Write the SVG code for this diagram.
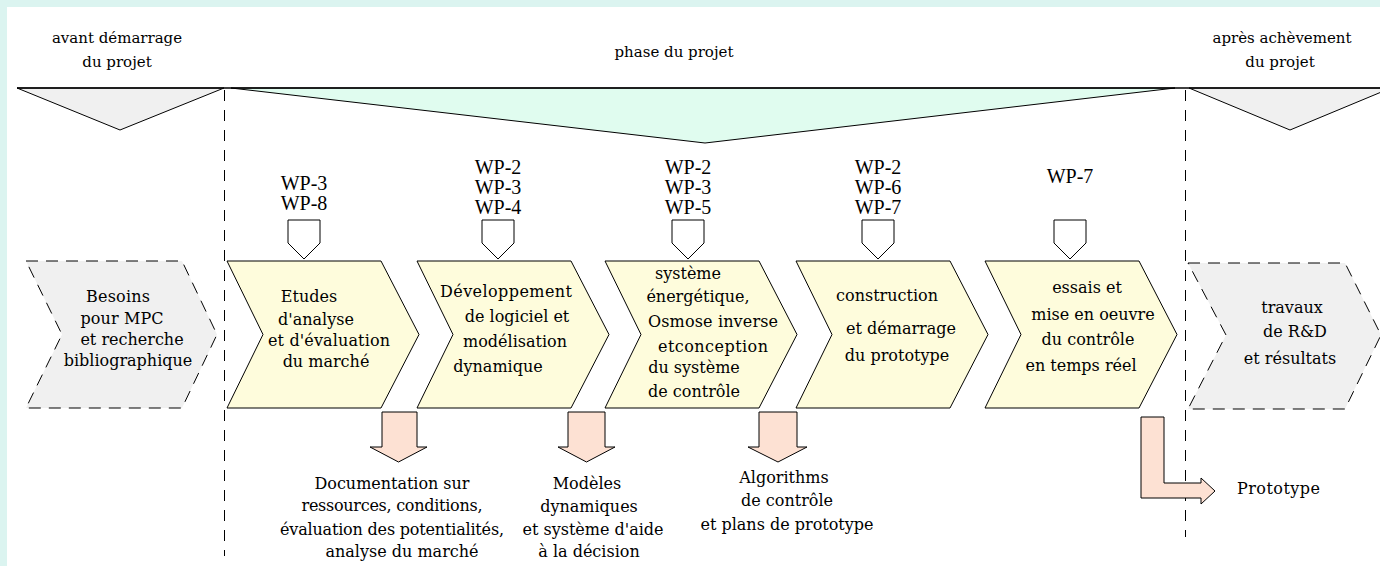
<svg xmlns="http://www.w3.org/2000/svg" width="1380" height="566" viewBox="0 0 1380 566">
<style>
.h{font-family:"DejaVu Serif","Liberation Serif",serif;font-size:15px;fill:#000;text-anchor:middle}
.t{font-family:"DejaVu Serif","Liberation Serif",serif;font-size:16px;fill:#000;text-anchor:middle}
.wp{font-family:"Liberation Serif","Times New Roman",serif;font-size:20px;fill:#000;text-anchor:middle}
.chev{fill:#fefcdc;stroke:#000;stroke-width:1}
.gchev{fill:#f0f0f0;stroke:#000;stroke-width:1;stroke-dasharray:12 8}
.pent{fill:#fff;stroke:#000;stroke-width:1}
.out{fill:#fde1d3;stroke:#000;stroke-width:1}
.dash{fill:none;stroke:#000;stroke-width:1;stroke-dasharray:11 9}
.tri{stroke:#000;stroke-width:1}
</style>
<rect x="0" y="0" width="1380" height="566" fill="#dbf4f0"/>
<rect x="7" y="7" width="1373" height="559" fill="#fff"/>

<g id="header">
  <polygon class="tri" points="17,88 224,88 120,130" fill="#f0f0f0"/>
  <polygon class="tri" points="231,88 1175,88 705,143" fill="#e0fcef"/>
  <polygon class="tri" points="1189,88 1391,88 1290,130" fill="#f0f0f0"/>
  <line x1="17" y1="88" x2="1380" y2="88" stroke="#000" stroke-width="1.3"/>
  <text class="h" x="117" y="43">avant démarrage</text>
  <text class="h" x="117" y="67">du projet</text>
  <text class="h" x="674" y="57">phase du projet</text>
  <text class="h" x="1282" y="43">après achèvement</text>
  <text class="h" x="1280" y="67">du projet</text>
</g>

<g id="separators">
  <line class="dash" x1="224.5" y1="90" x2="224.5" y2="556"/>
  <line class="dash" x1="1185.5" y1="90" x2="1185.5" y2="537"/>
</g>

<g id="n-besoins">
  <path class="gchev" d="M26,261 L182,261 L217,334.5 L182,408 L26,408 L62,334.5 Z"/>
  <text class="t" x="118" y="302" textLength="64">Besoins</text>
  <text class="t" x="122" y="324" textLength="83">pour MPC</text>
  <text class="t" x="132" y="345">et recherche</text>
  <text class="t" x="128" y="366">bibliographique</text>
</g>

<g id="n-etudes">
  <path class="pent" d="M288,220 L320,220 L320,243 L304,259 L288,243 Z"/>
  <text class="wp" x="304" y="190">WP-3</text>
  <text class="wp" x="304" y="210">WP-8</text>
  <path class="chev" d="M227,261 L381,261 L419,334.5 L381,408 L227,408 L263,334.5 Z"/>
  <text class="t" x="309" y="302">Etudes</text>
  <text class="t" x="316" y="325">d'analyse</text>
  <text class="t" x="329" y="346" textLength="122">et d'évaluation</text>
  <text class="t" x="326" y="367">du marché</text>
</g>

<g id="n-dev">
  <path class="pent" d="M482,220 L514,220 L514,243 L498,259 L482,243 Z"/>
  <text class="wp" x="498" y="174">WP-2</text>
  <text class="wp" x="498" y="194">WP-3</text>
  <text class="wp" x="498" y="214">WP-4</text>
  <path class="chev" d="M417,261 L571,261 L609,334.5 L571,408 L417,408 L453,334.5 Z"/>
  <text class="t" x="506" y="297" textLength="132">Développement</text>
  <text class="t" x="517" y="322">de logiciel et</text>
  <text class="t" x="515" y="347">modélisation</text>
  <text class="t" x="498" y="372">dynamique</text>
</g>

<g id="n-systeme">
  <path class="pent" d="M672,220 L704,220 L704,243 L688,259 L672,243 Z"/>
  <text class="wp" x="688" y="174">WP-2</text>
  <text class="wp" x="688" y="194">WP-3</text>
  <text class="wp" x="688" y="214">WP-5</text>
  <path class="chev" d="M605,261 L759,261 L797,334.5 L759,408 L605,408 L641,334.5 Z"/>
  <text class="t" x="688" y="279">système</text>
  <text class="t" x="698" y="302">énergétique,</text>
  <text class="t" x="713" y="327" textLength="130">Osmose inverse</text>
  <text class="t" x="713" y="352" textLength="110">etconception</text>
  <text class="t" x="694" y="373">du système</text>
  <text class="t" x="694" y="397">de contrôle</text>
</g>

<g id="n-construction">
  <path class="pent" d="M862,220 L894,220 L894,243 L878,259 L862,243 Z"/>
  <text class="wp" x="878" y="174">WP-2</text>
  <text class="wp" x="878" y="194">WP-6</text>
  <text class="wp" x="878" y="214">WP-7</text>
  <path class="chev" d="M796,261 L950,261 L988,334.5 L950,408 L796,408 L832,334.5 Z"/>
  <text class="t" x="887" y="301">construction</text>
  <text class="t" x="901" y="334">et démarrage</text>
  <text class="t" x="897" y="361">du prototype</text>
</g>

<g id="n-essais">
  <path class="pent" d="M1054,220 L1086,220 L1086,243 L1070,259 L1054,243 Z"/>
  <text class="wp" x="1070" y="183">WP-7</text>
  <path class="chev" d="M985,261 L1139,261 L1177,334.5 L1139,408 L985,408 L1021,334.5 Z"/>
  <text class="t" x="1087" y="293">essais et</text>
  <text class="t" x="1093" y="320">mise en oeuvre</text>
  <text class="t" x="1088" y="345">du contrôle</text>
  <text class="t" x="1081" y="371">en temps réel</text>
</g>

<g id="n-travaux">
  <path class="gchev" d="M1188,263 L1345,263 L1381,335 L1345,409 L1188,409 L1226,335 Z"/>
  <text class="t" x="1292" y="313">travaux</text>
  <text class="t" x="1295" y="337">de R&amp;D</text>
  <text class="t" x="1290" y="364">et résultats</text>
</g>

<g id="connectors">
  <path class="out" d="M382,412 L417,412 L417,447 L427,447 L398.5,462 L370,447 L382,447 Z"/>
  <path class="out" d="M568,412 L605,412 L605,447 L615,447 L586.5,462 L558,447 L568,447 Z"/>
  <path class="out" d="M759,412 L797,412 L797,447 L807,447 L778,462 L748,447 L759,447 Z"/>
  <path class="out" d="M1141,417 L1164,417 L1164,483 L1201,483 L1201,478 L1215,491 L1201,504 L1201,498 L1141,498 Z"/>
</g>

<g id="n-out-doc">
  <text class="t" x="392" y="489" textLength="155">Documentation sur</text>
  <text class="t" x="392" y="511" textLength="181">ressources, conditions,</text>
  <text class="t" x="392" y="535" textLength="224">évaluation des potentialités,</text>
  <text class="t" x="402" y="557">analyse du marché</text>
</g>
<g id="n-out-mod">
  <text class="t" x="587" y="489">Modèles</text>
  <text class="t" x="589" y="512">dynamiques</text>
  <text class="t" x="593" y="535">et système d'aide</text>
  <text class="t" x="589" y="557">à la décision</text>
</g>
<g id="n-out-algo">
  <text class="t" x="784" y="483">Algorithms</text>
  <text class="t" x="787" y="506">de contrôle</text>
  <text class="t" x="787" y="530">et plans de prototype</text>
</g>
<g id="n-out-proto">
  <text class="t" x="1237" y="494" textLength="83" style="text-anchor:start">Prototype</text>
</g>
</svg>
